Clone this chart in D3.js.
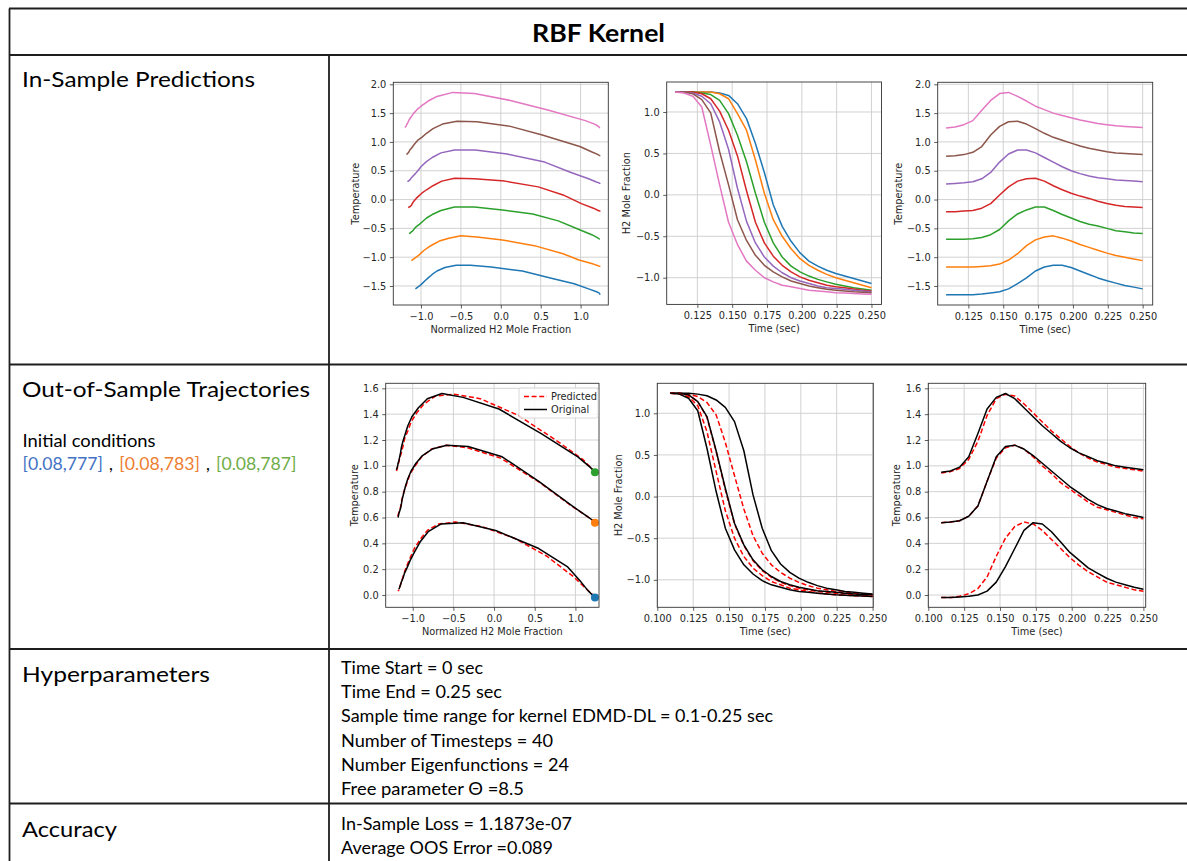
<!DOCTYPE html>
<html>
<head>
<meta charset="utf-8">
<script src="https://cdn.jsdelivr.net/npm/d3@7"></script>
<style>
  body { margin: 0; background: #fff; }
  svg { display: block; }
</style>
</head>
<body>
<script>
// time samples shared by every trajectory (sec)
const TIME = [0.1090, 0.1154, 0.1218, 0.1282, 0.1346, 0.1410, 0.1474, 0.1538, 0.1603, 0.1667, 0.1731, 0.1795,
              0.1859, 0.1923, 0.1987, 0.2051, 0.2115, 0.2179, 0.2244, 0.2308, 0.2372, 0.2436, 0.2500];

// in-sample : normalized H2 mole fraction
const H2_BLUE   = [1.24, 1.24, 1.24, 1.24, 1.24, 1.23, 1.20, 1.10, 0.92, 0.62, 0.27, -0.12, -0.38, -0.56, -0.70, -0.80, -0.86, -0.91, -0.95, -0.98, -1.01, -1.04, -1.07];
const H2_ORANGE = [1.24, 1.24, 1.24, 1.24, 1.24, 1.22, 1.16, 0.98, 0.78, 0.42, 0.02, -0.30, -0.50, -0.65, -0.77, -0.85, -0.91, -0.96, -1.00, -1.03, -1.06, -1.09, -1.12];
const H2_GREEN  = [1.24, 1.24, 1.24, 1.23, 1.21, 1.14, 0.98, 0.72, 0.40, 0.02, -0.33, -0.58, -0.75, -0.86, -0.93, -0.98, -1.02, -1.05, -1.08, -1.10, -1.12, -1.135, -1.15];
const H2_RED    = [1.24, 1.24, 1.24, 1.22, 1.16, 1.01, 0.78, 0.47, 0.05, -0.33, -0.58, -0.74, -0.85, -0.93, -0.99, -1.03, -1.06, -1.09, -1.11, -1.12, -1.135, -1.15, -1.16];
const H2_PURPLE = [1.24, 1.24, 1.23, 1.19, 1.10, 0.88, 0.55, 0.08, -0.32, -0.58, -0.75, -0.86, -0.94, -1.00, -1.04, -1.07, -1.10, -1.12, -1.13, -1.14, -1.15, -1.16, -1.17];
const H2_BROWN  = [1.24, 1.24, 1.22, 1.15, 0.99, 0.52, 0.12, -0.30, -0.55, -0.73, -0.85, -0.93, -0.99, -1.04, -1.07, -1.10, -1.12, -1.14, -1.15, -1.16, -1.17, -1.175, -1.18];
const H2_PINK   = [1.24, 1.23, 1.19, 1.06, 0.60, 0.12, -0.33, -0.60, -0.80, -0.91, -1.00, -1.05, -1.09, -1.11, -1.13, -1.15, -1.16, -1.17, -1.18, -1.185, -1.19, -1.195, -1.20];

// in-sample : temperature
const T_BLUE   = [-1.65, -1.65, -1.65, -1.65, -1.64, -1.62, -1.60, -1.55, -1.46, -1.36, -1.24, -1.17, -1.14, -1.14, -1.18, -1.24, -1.30, -1.36, -1.41, -1.45, -1.49, -1.52, -1.55];
const T_ORANGE = [-1.17, -1.17, -1.17, -1.17, -1.16, -1.15, -1.12, -1.05, -0.94, -0.80, -0.70, -0.65, -0.63, -0.67, -0.72, -0.78, -0.83, -0.88, -0.93, -0.97, -1.00, -1.03, -1.06];
const T_GREEN  = [-0.69, -0.69, -0.69, -0.68, -0.66, -0.61, -0.52, -0.37, -0.25, -0.18, -0.13, -0.13, -0.19, -0.26, -0.32, -0.38, -0.43, -0.46, -0.50, -0.54, -0.56, -0.58, -0.59];
const T_RED    = [-0.21, -0.21, -0.20, -0.19, -0.15, -0.07, 0.08, 0.22, 0.32, 0.36, 0.37, 0.32, 0.24, 0.17, 0.11, 0.06, 0.02, -0.03, -0.07, -0.10, -0.12, -0.13, -0.14];
const T_PURPLE = [0.27, 0.28, 0.29, 0.31, 0.36, 0.47, 0.65, 0.79, 0.86, 0.86, 0.81, 0.73, 0.65, 0.57, 0.50, 0.45, 0.41, 0.38, 0.36, 0.34, 0.33, 0.32, 0.31];
const T_BROWN  = [0.75, 0.76, 0.78, 0.82, 0.92, 1.12, 1.27, 1.35, 1.36, 1.31, 1.23, 1.15, 1.08, 1.03, 0.98, 0.93, 0.89, 0.86, 0.83, 0.81, 0.80, 0.79, 0.78];
const T_PINK   = [1.24, 1.26, 1.30, 1.37, 1.55, 1.72, 1.84, 1.86, 1.79, 1.71, 1.62, 1.56, 1.50, 1.46, 1.42, 1.38, 1.35, 1.32, 1.30, 1.28, 1.27, 1.26, 1.25];

// out-of-sample : original / predicted
const OOS_H2_BLUE_ORIG   = [1.24, 1.24, 1.24, 1.23, 1.21, 1.16, 1.07, 0.90, 0.55, 0.02, -0.38, -0.65, -0.81, -0.91, -0.98, -1.03, -1.07, -1.10, -1.12, -1.14, -1.15, -1.16, -1.17];
const OOS_H2_BLUE_PRED   = [1.24, 1.24, 1.23, 1.20, 1.13, 0.98, 0.65, 0.25, -0.15, -0.47, -0.68, -0.82, -0.91, -0.98, -1.03, -1.07, -1.10, -1.12, -1.14, -1.15, -1.16, -1.17, -1.18];
const OOS_H2_ORANGE_ORIG = [1.24, 1.24, 1.22, 1.14, 0.96, 0.55, 0.10, -0.32, -0.58, -0.76, -0.88, -0.96, -1.02, -1.06, -1.09, -1.11, -1.13, -1.14, -1.15, -1.16, -1.17, -1.175, -1.18];
const OOS_H2_ORANGE_PRED = [1.24, 1.24, 1.22, 1.14, 0.95, 0.54, 0.08, -0.33, -0.59, -0.77, -0.89, -0.97, -1.03, -1.07, -1.10, -1.12, -1.14, -1.15, -1.16, -1.17, -1.18, -1.185, -1.19];
const OOS_H2_GREEN_ORIG  = [1.24, 1.23, 1.18, 1.03, 0.58, 0.06, -0.38, -0.64, -0.82, -0.93, -1.01, -1.06, -1.09, -1.12, -1.14, -1.15, -1.16, -1.17, -1.18, -1.185, -1.19, -1.195, -1.20];
const OOS_H2_GREEN_PRED  = [1.24, 1.23, 1.20, 1.09, 0.78, 0.30, -0.17, -0.50, -0.72, -0.86, -0.95, -1.02, -1.06, -1.10, -1.12, -1.14, -1.16, -1.17, -1.18, -1.185, -1.19, -1.195, -1.20];

const OOS_T_BLUE_ORIG   = [-0.02, -0.02, -0.015, -0.01, 0.00, 0.03, 0.10, 0.22, 0.36, 0.50, 0.56, 0.55, 0.49, 0.41, 0.33, 0.27, 0.21, 0.17, 0.13, 0.10, 0.08, 0.06, 0.045];
const OOS_T_BLUE_PRED   = [-0.02, -0.02, -0.01, 0.01, 0.05, 0.14, 0.30, 0.44, 0.53, 0.565, 0.55, 0.50, 0.43, 0.36, 0.29, 0.23, 0.18, 0.14, 0.10, 0.08, 0.06, 0.04, 0.03];
const OOS_T_ORANGE_ORIG = [0.56, 0.565, 0.575, 0.61, 0.69, 0.88, 1.07, 1.15, 1.16, 1.13, 1.08, 1.02, 0.96, 0.90, 0.84, 0.79, 0.74, 0.70, 0.67, 0.65, 0.63, 0.615, 0.60];
const OOS_T_ORANGE_PRED = [0.56, 0.565, 0.575, 0.61, 0.69, 0.88, 1.06, 1.14, 1.16, 1.13, 1.07, 1.00, 0.94, 0.87, 0.82, 0.77, 0.72, 0.68, 0.66, 0.64, 0.62, 0.60, 0.59];
const OOS_T_GREEN_ORIG  = [0.95, 0.96, 0.99, 1.07, 1.25, 1.44, 1.53, 1.56, 1.52, 1.45, 1.38, 1.31, 1.25, 1.19, 1.14, 1.10, 1.07, 1.04, 1.02, 1.00, 0.99, 0.98, 0.97];
const OOS_T_GREEN_PRED  = [0.945, 0.955, 0.98, 1.05, 1.19, 1.39, 1.52, 1.555, 1.54, 1.48, 1.41, 1.34, 1.27, 1.21, 1.15, 1.10, 1.06, 1.03, 1.01, 0.99, 0.98, 0.97, 0.96];

// tick labels
const TICKS_H2N   = [-1.0, -0.5, 0.0, 0.5, 1.0];
const TICKS_T_IN  = [-1.5, -1.0, -0.5, 0.0, 0.5, 1.0, 1.5, 2.0];
const TICKS_T_OOS = [0.0, 0.2, 0.4, 0.6, 0.8, 1.0, 1.2, 1.4, 1.6];
const TICKS_TIME  = [0.125, 0.150, 0.175, 0.200, 0.225, 0.250];
const TICKS_TIME2 = [0.100, 0.125, 0.150, 0.175, 0.200, 0.225, 0.250];

// texts
const HYPER_LINES = ["Time Start = 0 sec", "Time End = 0.25 sec",
  "Sample time range for kernel EDMD-DL = 0.1-0.25 sec", "Number of Timesteps = 40",
  "Number Eigenfunctions = 24", "Free parameter \u0398 =8.5"];
const HYPER_WIDTHS = [142, 161, 432, 212, 228, 183];
const ACC_LINES = ["In-Sample Loss = 1.1873e-07", "Average OOS Error =0.089"];
const ACC_WIDTHS = [231, 212];

const tab = {blue: "#1f77b4", orange: "#ff7f0e", green: "#2ca02c", red: "#d62728",
             purple: "#9467bd", brown: "#8c564b", pink: "#e377c2"};

const inSample = [
  {c: tab.blue, h: H2_BLUE, t: T_BLUE},
  {c: tab.orange, h: H2_ORANGE, t: T_ORANGE},
  {c: tab.green, h: H2_GREEN, t: T_GREEN},
  {c: tab.red, h: H2_RED, t: T_RED},
  {c: tab.purple, h: H2_PURPLE, t: T_PURPLE},
  {c: tab.brown, h: H2_BROWN, t: T_BROWN},
  {c: tab.pink, h: H2_PINK, t: T_PINK}
];
const oos = [
  {c: tab.blue, ho: OOS_H2_BLUE_ORIG, hp: OOS_H2_BLUE_PRED, to: OOS_T_BLUE_ORIG, tp: OOS_T_BLUE_PRED},
  {c: tab.orange, ho: OOS_H2_ORANGE_ORIG, hp: OOS_H2_ORANGE_PRED, to: OOS_T_ORANGE_ORIG, tp: OOS_T_ORANGE_PRED},
  {c: tab.green, ho: OOS_H2_GREEN_ORIG, hp: OOS_H2_GREEN_PRED, to: OOS_T_GREEN_ORIG, tp: OOS_T_GREEN_PRED}
];

const W = 1187, H = 861;
const svg = d3.select("body").append("svg").attr("width", W).attr("height", H);
const FONT = "Lato, 'Open Sans', sans-serif";
const MPL = "'DejaVu Sans', sans-serif";
const FS = 9.8; // matplotlib text size

// ---------- table ----------
const grid = svg.append("g").attr("stroke", "#1e1e1e").attr("stroke-width", 1.8);
[8.5, 55, 364.5, 649, 803.5].forEach(yy => grid.append("line").attr("x1", 9).attr("x2", W).attr("y1", yy).attr("y2", yy));
grid.append("line").attr("x1", 9.5).attr("x2", 9.5).attr("y1", 8.5).attr("y2", H);
grid.append("line").attr("x1", 329).attr("x2", 329).attr("y1", 55).attr("y2", H);

function txt(s, x, y, size, w, opts = {}) {
  const t = svg.append("text").attr("x", x).attr("y", y)
    .attr("font-family", FONT).attr("font-size", size)
    .attr("dominant-baseline", "central")
    .attr("fill", opts.fill || "#000")
    .attr("font-weight", opts.bold ? "bold" : "normal")
    .attr("text-anchor", opts.anchor || "start")
    .text(s);
  if (w) t.attr("textLength", w).attr("lengthAdjust", "spacingAndGlyphs");
  return t;
}

txt("RBF Kernel", 598.5, 32, 25, 133, {bold: true, anchor: "middle"});
txt("In-Sample Predictions", 22, 78, 22, 233);
txt("Out-of-Sample Trajectories", 22, 388, 22, 288);
txt("Initial conditions", 22.5, 440, 17, 133);
txt("[0.08,777]", 22.5, 463.5, 17, 80.5, {fill: "#4472c4"});
txt(",", 109, 463.5, 17);
txt("[0.08,783]", 119.3, 463.5, 17, 80.5, {fill: "#ed7d31"});
txt(",", 206, 463.5, 17);
txt("[0.08,787]", 216, 463.5, 17, 80.5, {fill: "#70ad47"});
txt("Hyperparameters", 22, 673, 22, 188);
txt("Accuracy", 22, 828, 22, 95);
HYPER_LINES.forEach((s, i) => txt(s, 341, 667.5 + i * 24.2, 17, HYPER_WIDTHS[i]));
ACC_LINES.forEach((s, i) => txt(s, 341, 823 + i * 24.2, 17, ACC_WIDTHS[i]));

// ---------- matplotlib-like panels ----------
function panel(p) {
  const g = svg.append("g");
  const x = d3.scaleLinear().domain(p.xd).range([p.x0, p.x1]);
  const y = d3.scaleLinear().domain(p.yd).range([p.y1, p.y0]);

  // grid
  g.append("g").selectAll("line").data(p.xt).join("line")
    .attr("x1", d => x(d)).attr("x2", d => x(d)).attr("y1", p.y0).attr("y2", p.y1)
    .attr("stroke", "#cdcdcd").attr("stroke-width", 0.9);
  g.append("g").selectAll("line").data(p.yt).join("line")
    .attr("y1", d => y(d)).attr("y2", d => y(d)).attr("x1", p.x0).attr("x2", p.x1)
    .attr("stroke", "#cdcdcd").attr("stroke-width", 0.9);

  const line = d3.line().x(d => x(d[0])).y(d => y(d[1]));
  p.series.forEach(s => {
    g.append("path").datum(d3.zip(s.xs, s.ys)).attr("d", line)
      .attr("fill", "none").attr("stroke", s.color).attr("stroke-width", 1.5)
      .attr("stroke-dasharray", s.dash || null).attr("stroke-linejoin", "round");
  });
  (p.dots || []).forEach(d => {
    g.append("circle").attr("cx", x(d.x)).attr("cy", y(d.y)).attr("r", 4).attr("fill", d.color);
  });

  // axes
  const ax = g.append("g").attr("transform", `translate(0,${p.y1})`)
    .call(d3.axisBottom(x).tickValues(p.xt).tickFormat(d3.format(p.xf)).tickSize(3.5).tickPadding(4.5));
  const ay = g.append("g").attr("transform", `translate(${p.x0},0)`)
    .call(d3.axisLeft(y).tickValues(p.yt).tickFormat(d3.format(p.yf)).tickSize(3.5).tickPadding(3.5));
  [ax, ay].forEach(a => {
    a.select(".domain").remove();
    a.selectAll("line").attr("stroke", "#333").attr("stroke-width", 0.8);
    a.selectAll("text").attr("font-family", MPL).attr("font-size", FS).attr("fill", "#262626");
  });

  g.append("rect").attr("x", p.x0).attr("y", p.y0).attr("width", p.x1 - p.x0).attr("height", p.y1 - p.y0)
    .attr("fill", "none").attr("stroke", "#333").attr("stroke-width", 0.9);

  g.append("text").attr("x", (p.x0 + p.x1) / 2).attr("y", p.y1 + 24)
    .attr("text-anchor", "middle").attr("dominant-baseline", "central")
    .attr("font-family", MPL).attr("font-size", FS).attr("fill", "#262626").text(p.xl);
  g.append("text").attr("transform", `translate(${p.x0 + p.ylOff},${(p.y0 + p.y1) / 2}) rotate(-90)`)
    .attr("text-anchor", "middle").attr("dominant-baseline", "central")
    .attr("font-family", MPL).attr("font-size", FS).attr("fill", "#262626").text(p.yl);

  if (p.legend) {
    const lx = p.legend.x, ly = p.legend.y;
    g.append("rect").attr("x", lx).attr("y", ly).attr("width", 79).attr("height", 30).attr("rx", 2)
      .attr("fill", "#fff").attr("fill-opacity", 0.85).attr("stroke", "#d0d0d0").attr("stroke-width", 0.8);
    p.legend.items.forEach((it, i) => {
      const yy = ly + 8.5 + i * 13;
      g.append("line").attr("x1", lx + 5).attr("x2", lx + 28).attr("y1", yy).attr("y2", yy)
        .attr("stroke", it.color).attr("stroke-width", 1.5).attr("stroke-dasharray", it.dash || null);
      g.append("text").attr("x", lx + 32).attr("y", yy).attr("dominant-baseline", "central")
        .attr("font-family", MPL).attr("font-size", FS).attr("fill", "#262626").text(it.label);
    });
  }
}

// row 1: in-sample
panel({x0: 393.3, x1: 608.3, y0: 82.3, y1: 305, xd: [-1.347, 1.347], yd: [-1.83, 2.035],
  xt: TICKS_H2N, yt: TICKS_T_IN, xf: ".1f", yf: ".1f",
  xl: "Normalized H2 Mole Fraction", yl: "Temperature", ylOff: -38,
  series: inSample.map(s => ({xs: s.h, ys: s.t, color: s.c}))});
panel({x0: 666.7, x1: 881.5, y0: 82, y1: 304.4, xd: [0.103, 0.2572], yd: [-1.322, 1.362],
  xt: TICKS_TIME, yt: TICKS_H2N, xf: ".3f", yf: ".1f",
  xl: "Time (sec)", yl: "H2 Mole Fraction", ylOff: -40,
  series: inSample.map(s => ({xs: TIME, ys: s.h, color: s.c}))});
panel({x0: 937.7, x1: 1152.7, y0: 82.3, y1: 305, xd: [0.103, 0.2572], yd: [-1.83, 2.035],
  xt: TICKS_TIME, yt: TICKS_T_IN, xf: ".3f", yf: ".1f",
  xl: "Time (sec)", yl: "Temperature", ylOff: -39.4,
  series: inSample.map(s => ({xs: TIME, ys: s.t, color: s.c}))});

// row 2: out-of-sample
const oosSeries = (fx, fy) => oos.flatMap(s => [
  {xs: fx(s, "p"), ys: fy(s, "p"), color: "#ff0000", dash: "5,2.6"},
  {xs: fx(s, "o"), ys: fy(s, "o"), color: "#000"}
]);
panel({x0: 385.7, x1: 599, y0: 383.3, y1: 607.3, xd: [-1.332, 1.29], yd: [-0.095, 1.639],
  xt: TICKS_H2N, yt: TICKS_T_OOS, xf: ".1f", yf: ".1f",
  xl: "Normalized H2 Mole Fraction", yl: "Temperature", ylOff: -31.7,
  series: oosSeries((s, k) => s["h" + k], (s, k) => s["t" + k]),
  dots: oos.map(s => ({x: s.ho[0], y: s.to[0], color: s.c})),
  legend: {x: 519, y: 388, items: [
    {label: "Predicted", color: "#ff0000", dash: "5,2.6"},
    {label: "Original", color: "#000"}]}});
panel({x0: 657.3, x1: 873.3, y0: 383.3, y1: 607.3, xd: [0.1, 0.2505], yd: [-1.33, 1.36],
  xt: TICKS_TIME2, yt: TICKS_H2N, xf: ".3f", yf: ".1f",
  xl: "Time (sec)", yl: "H2 Mole Fraction", ylOff: -39,
  series: oosSeries(() => TIME, (s, k) => s["h" + k])});
panel({x0: 928.3, x1: 1145.7, y0: 383.3, y1: 607.3, xd: [0.1, 0.2516], yd: [-0.095, 1.639],
  xt: TICKS_TIME2, yt: TICKS_T_OOS, xf: ".3f", yf: ".1f",
  xl: "Time (sec)", yl: "Temperature", ylOff: -31.6,
  series: oosSeries(() => TIME, (s, k) => s["t" + k])});
</script>
</body>
</html>
